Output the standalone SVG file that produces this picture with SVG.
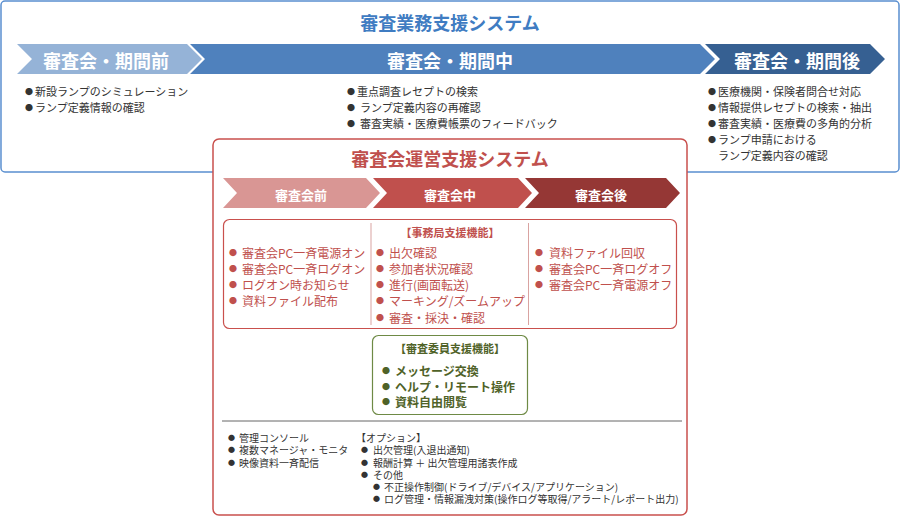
<svg xmlns="http://www.w3.org/2000/svg" width="901" height="518" viewBox="0 0 901 518">
<style>
text{font-family:"Noto Sans CJK JP","Noto Sans",sans-serif;}
.t1{font-size:18px;font-weight:bold;fill:#3f7cc2;text-anchor:middle;}
.t2{font-size:18px;font-weight:bold;fill:#c0504d;text-anchor:middle;}
.ah{font-size:18px;font-weight:bold;fill:#fff;text-anchor:middle;dominant-baseline:central;}
.ar{font-size:13px;font-weight:bold;fill:#fff;text-anchor:middle;dominant-baseline:central;}
.b{font-size:11px;fill:#333;dominant-baseline:central;}
.bu{font-size:8px;}
.r{font-size:12px;fill:#c0504d;dominant-baseline:central;}
.rh{font-size:11px;font-weight:bold;fill:#c0504d;text-anchor:middle;dominant-baseline:central;}
.g{font-size:12px;fill:#4f6228;font-weight:bold;dominant-baseline:central;}
.gh{font-size:11px;font-weight:bold;fill:#4f6228;text-anchor:middle;dominant-baseline:central;}
.s{font-size:10px;fill:#333;dominant-baseline:central;}
.sb{font-size:7px;}
</style>
<rect x="0" y="0" width="901" height="518" fill="#fff"/>
<g id="gyomu">
<rect x="1" y="1" width="898" height="171" rx="4" fill="#fff" stroke="#5a8fd0" stroke-width="1.5"/>
<text class="t1" x="450" y="30">審査業務支援システム</text>
</g>
<g id="phase-before">
<polygon points="17,44 187,44 202,59 187,74 17,74 32,59" fill="#95b3d7"/>
<text class="ah" x="106" y="60">審査会・期間前</text>
<text class="b"><tspan class="bu" x="25" y="91">●</tspan><tspan x="35" y="91">新設ランプのシミュレーション</tspan></text>
<text class="b"><tspan class="bu" x="25" y="107">●</tspan><tspan x="35" y="107">ランプ定義情報の確認</tspan></text>
</g>
<g id="phase-during">
<polygon points="190,44 700,44 715,59 700,74 190,74 205,59" fill="#4f81bd"/>
<text class="ah" x="450" y="60">審査会・期間中</text>
<text class="b"><tspan class="bu" x="347" y="91">●</tspan><tspan x="357" y="91">重点調査レセプトの検索</tspan></text>
<text class="b"><tspan class="bu" x="347" y="107">●</tspan><tspan x="360" y="107">ランプ定義内容の再確認</tspan></text>
<text class="b"><tspan class="bu" x="347" y="123">●</tspan><tspan x="360" y="123">審査実績・医療費帳票のフィードバック</tspan></text>
</g>
<g id="phase-after">
<polygon points="705,44 870,44 885,59 870,74 705,74 720,59" fill="#366092"/>
<text class="ah" x="797" y="60">審査会・期間後</text>
<text class="b"><tspan class="bu" x="708" y="91">●</tspan><tspan x="718" y="91">医療機関・保険者問合せ対応</tspan></text>
<text class="b"><tspan class="bu" x="708" y="107">●</tspan><tspan x="718" y="107">情報提供レセプトの検索・抽出</tspan></text>
<text class="b"><tspan class="bu" x="708" y="123">●</tspan><tspan x="718" y="123">審査実績・医療費の多角的分析</tspan></text>
<text class="b"><tspan class="bu" x="708" y="139">●</tspan><tspan x="718" y="139">ランプ申請における</tspan></text>
<text class="b" x="718" y="155">ランプ定義内容の確認</text>
</g>
<g id="unei">
<rect x="213" y="139" width="474" height="376" rx="6" fill="#fff" stroke="#c9504d" stroke-width="1.5"/>
<text class="t2" x="450" y="166">審査会運営支援システム</text>
<polygon points="223,178 366,178 380,193 366,208 223,208 237,193" fill="#d99694"/>
<text class="ar" x="301" y="194">審査会前</text>
<polygon points="373,178 518,178 532,193 518,208 373,208 387,193" fill="#c0504d"/>
<text class="ar" x="450" y="194">審査会中</text>
<polygon points="525,178 666,178 680,193 666,208 525,208 539,193" fill="#953735"/>
<text class="ar" x="601" y="194">審査会後</text>
</g>
<g id="jimukyoku">
<rect x="223.5" y="219.5" width="453" height="109" rx="6" fill="#fff" stroke="#c9504d" stroke-width="1.2"/>
<line x1="371" y1="223" x2="371" y2="325" stroke="#d9a3a1" stroke-width="1"/>
<line x1="528.5" y1="223" x2="528.5" y2="325" stroke="#d9a3a1" stroke-width="1"/>
<text class="rh" x="450" y="232">【事務局支援機能】</text>
<text class="r"><tspan class="bu" x="229" y="252">●</tspan><tspan x="242" y="252">審査会PC一斉電源オン</tspan></text>
<text class="r"><tspan class="bu" x="229" y="268">●</tspan><tspan x="242" y="268">審査会PC一斉ログオン</tspan></text>
<text class="r"><tspan class="bu" x="229" y="284">●</tspan><tspan x="242" y="284">ログオン時お知らせ</tspan></text>
<text class="r"><tspan class="bu" x="229" y="300">●</tspan><tspan x="242" y="300">資料ファイル配布</tspan></text>
<text class="r"><tspan class="bu" x="376" y="252">●</tspan><tspan x="389" y="252">出欠確認</tspan></text>
<text class="r"><tspan class="bu" x="376" y="268">●</tspan><tspan x="389" y="268">参加者状況確認</tspan></text>
<text class="r"><tspan class="bu" x="376" y="284">●</tspan><tspan x="389" y="284">進行(画面転送)</tspan></text>
<text class="r"><tspan class="bu" x="376" y="300">●</tspan><tspan x="389" y="300">マーキング/ズームアップ</tspan></text>
<text class="r"><tspan class="bu" x="376" y="317">●</tspan><tspan x="389" y="317">審査・採決・確認</tspan></text>
<text class="r"><tspan class="bu" x="535" y="252">●</tspan><tspan x="549" y="252">資料ファイル回収</tspan></text>
<text class="r"><tspan class="bu" x="535" y="268">●</tspan><tspan x="549" y="268">審査会PC一斉ログオフ</tspan></text>
<text class="r"><tspan class="bu" x="535" y="284">●</tspan><tspan x="549" y="284">審査会PC一斉電源オフ</tspan></text>
</g>
<g id="iin">
<rect x="372.5" y="335.5" width="155" height="79" rx="6" fill="#fff" stroke="#6e8a45" stroke-width="1.2"/>
<text class="gh" x="450" y="348">【審査委員支援機能】</text>
<text class="g"><tspan class="bu" x="382" y="370">●</tspan><tspan x="395" y="370">メッセージ交換</tspan></text>
<text class="g"><tspan class="bu" x="382" y="386">●</tspan><tspan x="395" y="386">ヘルプ・リモート操作</tspan></text>
<text class="g"><tspan class="bu" x="382" y="401">●</tspan><tspan x="395" y="401">資料自由閲覧</tspan></text>
</g>
<g id="kanri">
<line x1="222" y1="421" x2="682" y2="421" stroke="#666" stroke-width="1"/>
<text class="s"><tspan class="sb" x="228" y="437">●</tspan><tspan x="239" y="437">管理コンソール</tspan></text>
<text class="s"><tspan class="sb" x="228" y="449">●</tspan><tspan x="239" y="449">複数マネージャ・モニタ</tspan></text>
<text class="s"><tspan class="sb" x="228" y="462">●</tspan><tspan x="239" y="462">映像資料一斉配信</tspan></text>
</g>
<g id="option">
<text class="s" x="356" y="437">【オプション】</text>
<text class="s"><tspan class="sb" x="361" y="449">●</tspan><tspan x="373" y="449">出欠管理(入退出通知)</tspan></text>
<text class="s"><tspan class="sb" x="361" y="462">●</tspan><tspan x="373" y="462">報酬計算 ＋ 出欠管理用諸表作成</tspan></text>
<text class="s"><tspan class="sb" x="361" y="474">●</tspan><tspan x="373" y="474">その他</tspan></text>
<text class="s"><tspan class="sb" x="373" y="486">●</tspan><tspan x="384" y="486">不正操作制御(ドライブ/デバイス/アプリケーション)</tspan></text>
<text class="s"><tspan class="sb" x="373" y="498">●</tspan><tspan x="384" y="498">ログ管理・情報漏洩対策(操作ログ等取得/アラート/レポート出力)</tspan></text>
</g>
</svg>
